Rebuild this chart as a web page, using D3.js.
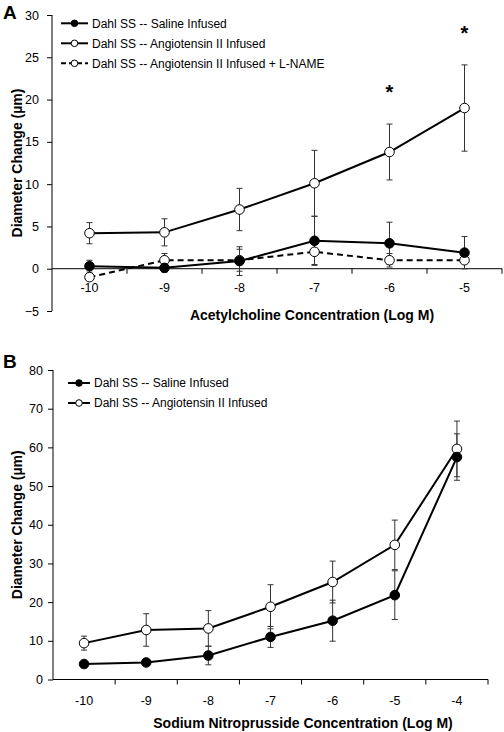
<!DOCTYPE html>
<html>
<head>
<meta charset="utf-8">
<script src="https://cdn.jsdelivr.net/npm/d3@7"></script>
<style>
  html, body { margin: 0; padding: 0; background: #fff; }
  svg { display: block; }
  text { font-family: "Liberation Sans", Arial, sans-serif; fill: #000; }
</style>
</head>
<body>
<svg id="chart" width="504" height="732"></svg>
<script>
// ---------- Panel A data (Acetylcholine) ----------
const concA = ["-10", "-9", "-8", "-7", "-6", "-5"];
const salineA = [0.3, 0.1, 0.9, 3.3, 3.0, 1.9];
const salineAErr = [0.7, 0.5, 1.7, 2.9, 2.5, 1.9];
const angioA = [4.2, 4.3, 7.0, 10.1, 13.8, 19.0];
const angioAErr = [1.25, 1.6, 2.5, 3.9, 3.3, 5.1];
const lnameA = [-1.0, 1.0, 1.0, 2.0, 1.0, 1.0];
const lnameAErr = [0.4, 0.8, 1.3, 1.5, 0.8, 1.0];
const yTicksA = [-5, 0, 5, 10, 15, 20, 25, 30];
const starsA = ["-6", "-5"];

// ---------- Panel B data (Sodium Nitroprusside) ----------
const concB = ["-10", "-9", "-8", "-7", "-6", "-5", "-4"];
const salineB = [4.0, 4.4, 6.2, 11.0, 15.2, 21.8, 57.5];
const salineBErr = [0.6, 0.6, 2.4, 2.7, 5.3, 6.3, 6.0];
const angioB = [9.4, 12.8, 13.2, 18.8, 25.2, 34.8, 59.6];
const angioBErr = [1.8, 4.2, 4.6, 5.7, 5.4, 6.4, 7.2];
const yTicksB = [0, 10, 20, 30, 40, 50, 60, 70, 80];

const labelSaline = "Dahl SS -- Saline Infused";
const labelAngio = "Dahl SS -- Angiotensin II Infused";
const labelLname = "Dahl SS -- Angiotensin II Infused + L-NAME";

const svg = d3.select("#chart");

function drawPanel(cfg) {
  const g = svg.append("g");
  const x = d3.scaleBand().domain(cfg.cats).range([cfg.x0, cfg.x1]);
  const y = d3.scaleLinear().domain(cfg.yDomain).range([cfg.y0, cfg.y1]);
  const cx = c => x(c) + x.bandwidth() / 2;

  // Y axis
  const yAxis = d3.axisLeft(y).tickValues(cfg.yTicks).tickSize(5).tickPadding(cfg.yPad).tickFormat(d3.format("d"));
  const ya = g.append("g").attr("transform", `translate(${cfg.x0},0)`).call(yAxis);
  ya.select(".domain").attr("stroke", "#000").attr("stroke-width", 1).attr("d", `M0,${cfg.y0}V${cfg.y1}`);
  ya.selectAll(".tick line").attr("stroke", "#000");
  ya.selectAll(".tick text").style("font-size", "12.5px").style("font-family", "Liberation Sans, Arial, sans-serif").attr("fill", "#000");

  // X axis line at y = 0
  const ax = y(0);
  g.append("line").attr("x1", cfg.x0).attr("x2", cfg.x1).attr("y1", ax).attr("y2", ax)
    .attr("stroke", "#000").attr("stroke-width", 1);
  // ticks at band boundaries
  const bounds = cfg.cats.map(c => x(c)).concat([x(cfg.cats[cfg.cats.length - 1]) + x.bandwidth()]);
  g.selectAll(".xt").data(bounds.slice(1)).enter().append("line")
    .attr("x1", d => d).attr("x2", d => d).attr("y1", ax).attr("y2", ax + 5)
    .attr("stroke", "#000").attr("stroke-width", 1);
  g.selectAll(".xl").data(cfg.cats).enter().append("text")
    .attr("x", d => cx(d)).attr("y", ax + cfg.xLabOff)
    .attr("text-anchor", "middle").style("font-size", "12.5px").text(d => d);

  // Titles
  g.append("text").attr("x", cfg.xTitleX).attr("y", cfg.xTitleY).attr("text-anchor", "middle")
    .style("font-size", "14px").style("font-weight", "bold").text(cfg.xTitle);
  g.append("text").attr("transform", `translate(${cfg.yTitleX},${(cfg.y0 + cfg.y1) / 2}) rotate(-90)`)
    .attr("text-anchor", "middle").style("font-size", "14px").style("font-weight", "bold")
    .text("Diameter Change (µm)");
  g.append("text").attr("x", 3).attr("y", cfg.letterY)
    .style("font-size", "19px").style("font-weight", "bold").text(cfg.letter);

  // Error bars
  cfg.series.forEach(s => {
    const eb = g.append("g");
    s.values.forEach((v, i) => {
      const c = cx(cfg.cats[i]);
      const hi = y(v + s.err[i]), lo = y(v - s.err[i]);
      eb.append("line").attr("x1", c).attr("x2", c).attr("y1", hi).attr("y2", lo)
        .attr("stroke", "#333").attr("stroke-width", 1);
      [hi, lo].forEach(yy => eb.append("line").attr("x1", c - 3).attr("x2", c + 3)
        .attr("y1", yy).attr("y2", yy).attr("stroke", "#333").attr("stroke-width", 1));
    });
  });

  // Lines
  cfg.series.forEach(s => {
    const line = d3.line().x((d, i) => cx(cfg.cats[i])).y(d => y(d));
    g.append("path").attr("d", line(s.values)).attr("fill", "none")
      .attr("stroke", "#000").attr("stroke-width", 2)
      .attr("stroke-dasharray", s.dash ? "6,4" : null);
  });

  // Markers
  cfg.series.slice().reverse().forEach(s => {
    g.selectAll(null).data(s.values).enter().append("circle")
      .attr("cx", (d, i) => cx(cfg.cats[i])).attr("cy", d => y(d)).attr("r", 4.8)
      .attr("fill", s.filled ? "#000" : "#fff").attr("stroke", "#000").attr("stroke-width", 1);
  });

  // Legend
  cfg.series.forEach((s, i) => {
    const ly = cfg.legY + i * cfg.legStep;
    g.append("line").attr("x1", cfg.legX0).attr("x2", cfg.legX1).attr("y1", ly).attr("y2", ly)
      .attr("stroke", "#000").attr("stroke-width", 2).attr("stroke-dasharray", s.dash ? "5,3" : null);
    g.append("circle").attr("cx", (cfg.legX0 + cfg.legX1) / 2).attr("cy", ly).attr("r", 3.3)
      .attr("fill", s.filled ? "#000" : "#fff").attr("stroke", "#000").attr("stroke-width", 1);
    g.append("text").attr("x", cfg.legX1 + 4).attr("y", ly + 4.3).style("font-size", "12px").text(s.label);
  });

  // Significance stars
  (cfg.stars || []).forEach((c, i) => {
    g.append("text").attr("x", cx(c)).attr("y", cfg.starY[i]).attr("text-anchor", "middle")
      .style("font-size", "20px").style("font-weight", "bold").text("*");
  });
}

drawPanel({
  letter: "A", letterY: 18.5,
  cats: concA, x0: 52, x1: 502,
  yDomain: [-5, 30], y0: 311, y1: 15, yTicks: yTicksA, yPad: 8,
  xLabOff: 23.5,
  xTitle: "Acetylcholine Concentration (Log M)", xTitleX: 312, xTitleY: 320,
  yTitleX: 21.5,
  legX0: 61, legX1: 88, legY: 23.3, legStep: 20,
  series: [
    { label: labelSaline, values: salineA, err: salineAErr, filled: true, dash: false },
    { label: labelAngio, values: angioA, err: angioAErr, filled: false, dash: false },
    { label: labelLname, values: lnameA, err: lnameAErr, filled: false, dash: true }
  ],
  stars: starsA, starY: [99, 40]
});

drawPanel({
  letter: "B", letterY: 368,
  cats: concB, x0: 53, x1: 488,
  yDomain: [0, 80], y0: 679.5, y1: 370, yTicks: yTicksB, yPad: 5,
  xLabOff: 25,
  xTitle: "Sodium Nitroprusside Concentration (Log M)", xTitleX: 303, xTitleY: 728,
  yTitleX: 21.5,
  legX0: 68, legX1: 90, legY: 383, legStep: 20,
  series: [
    { label: labelSaline, values: salineB, err: salineBErr, filled: true, dash: false },
    { label: labelAngio, values: angioB, err: angioBErr, filled: false, dash: false }
  ]
});
</script>
</body>
</html>
